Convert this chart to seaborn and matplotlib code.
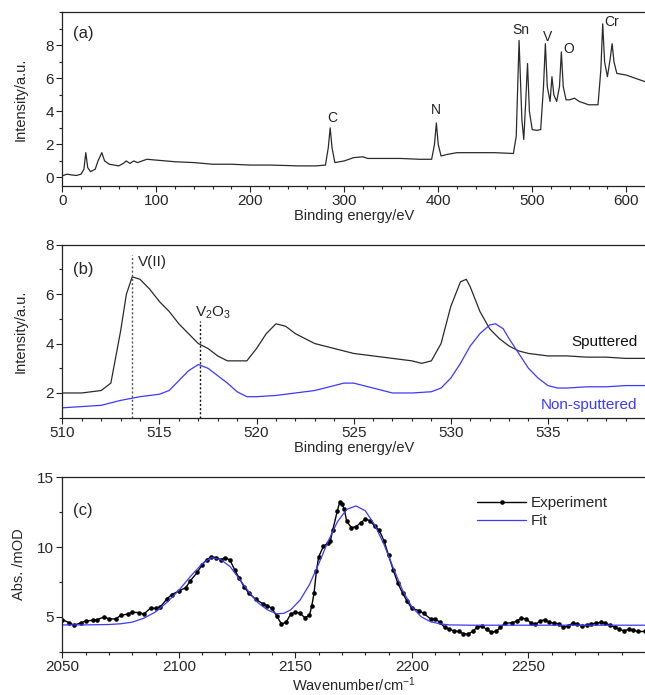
import numpy as np
import pandas as pd
import matplotlib
matplotlib.use("Agg")
import matplotlib.pyplot as plt
from matplotlib.ticker import MultipleLocator
import seaborn as sns

# (a) survey spectrum
survey_ev = [0, 5, 10, 15, 20, 23, 25, 27, 30, 35, 38, 42, 45, 50, 60, 65, 68, 72, 76, 80,
             90, 100, 120, 140, 160, 180, 200, 220, 240, 250, 270, 280, 283, 285, 287, 290,
             300, 310, 320, 325, 340, 360, 380, 393, 396, 398, 400, 403, 410, 420, 440, 460,
             480, 483, 486, 489, 491, 493, 495, 497, 500, 505, 509, 512, 514, 516, 519, 521,
             523, 526, 529, 531, 533, 536, 540, 545, 550, 560, 570, 573, 575, 577, 580, 583,
             585, 587, 590, 600, 610, 620]
survey_int = [0.1, 0.2, 0.15, 0.12, 0.2, 0.5, 1.5, 0.6, 0.35, 0.5, 1.0, 1.5, 1.0, 0.8, 0.7, 0.85,
              1.0, 0.85, 1.0, 0.9, 1.1, 1.05, 0.95, 0.9, 0.8, 0.8, 0.75, 0.75, 0.72, 0.7, 0.7,
              0.75, 1.8, 3.0, 1.8, 0.9, 1.0, 1.2, 1.25, 1.15, 1.15, 1.15, 1.1, 1.1, 2.0, 3.3,
              2.0, 1.3, 1.4, 1.5, 1.5, 1.5, 1.45, 2.5, 8.3, 3.5, 2.3, 4.5, 6.9, 4.0, 2.9, 2.85,
              2.9, 5.5, 8.1, 5.5, 4.6, 6.1, 5.0, 4.6, 5.5, 7.6, 5.5, 4.7, 4.7, 4.8, 4.6, 4.4,
              4.4, 6.5, 9.3, 7.0, 6.1, 7.2, 8.1, 7.0, 6.3, 6.2, 6.0, 5.8]
peak_names = ["C", "N", "Sn", "V", "O", "Cr"]
peak_label_x = [287.5, 398, 488, 516, 539, 584]
peak_label_y = [3.6, 4.1, 8.9, 8.5, 7.8, 9.4]

# (b) V 2p region
sput_ev = [510, 511, 512, 512.5, 513, 513.3, 513.6, 514, 514.5, 515, 515.5, 516, 516.5, 517,
           517.5, 518, 518.5, 519, 519.5, 520, 520.5, 521, 521.5, 522, 522.5, 523, 524, 525,
           526, 527, 528, 528.5, 529, 529.5, 530, 530.5, 530.8, 531, 531.5, 532, 532.5, 533,
           533.5, 534, 535, 536, 537, 538, 539, 540]
sput_int = [2.0, 2.0, 2.1, 2.4, 4.5, 6.0, 6.7, 6.6, 6.2, 5.7, 5.3, 4.8, 4.4, 4.0, 3.8, 3.5,
            3.3, 3.3, 3.3, 3.8, 4.4, 4.8, 4.7, 4.4, 4.2, 4.0, 3.8, 3.6, 3.5, 3.4, 3.3, 3.2,
            3.3, 4.0, 5.5, 6.5, 6.6, 6.3, 5.3, 4.6, 4.2, 3.9, 3.7, 3.6, 3.5, 3.5, 3.45, 3.45,
            3.4, 3.4]
nonsput_ev = [510, 511, 512, 513, 514, 515, 515.5, 516, 516.5, 517, 517.5, 518, 518.5, 519,
              519.5, 520, 521, 522, 523, 524, 524.5, 525, 526, 527, 528, 529, 529.5, 530,
              530.5, 531, 531.5, 532, 532.3, 532.7, 533, 533.5, 534, 534.5, 535, 535.5, 536,
              537, 538, 539, 540]
nonsput_int = [1.4, 1.45, 1.5, 1.7, 1.85, 1.95, 2.1, 2.5, 2.9, 3.15, 3.0, 2.7, 2.4, 2.05,
               1.85, 1.85, 1.9, 2.0, 2.1, 2.3, 2.4, 2.4, 2.2, 2.0, 2.0, 2.05, 2.2, 2.6, 3.2,
               3.9, 4.4, 4.75, 4.8, 4.6, 4.2, 3.6, 3.0, 2.6, 2.3, 2.2, 2.2, 2.25, 2.25, 2.3, 2.3]
ref_lines_ev = [513.6, 517.1]
ref_lines_top = [7.6, 4.9]

# (c) IR absorbance
exp_wn = [2050, 2053, 2055, 2058, 2060, 2063, 2065, 2068, 2070, 2073, 2075, 2078, 2080, 2083,
          2085, 2088, 2090, 2092, 2095, 2097, 2100, 2103, 2105, 2108, 2110, 2112, 2114, 2116,
          2118, 2120, 2122, 2124, 2126, 2128, 2130, 2133, 2136, 2138, 2140, 2142, 2144, 2146,
          2148, 2150, 2152, 2154, 2156, 2157, 2158, 2159, 2160, 2162, 2164, 2165, 2166, 2168,
          2169, 2170, 2171, 2172, 2174, 2176, 2178, 2180, 2182, 2184, 2186, 2188, 2190, 2192,
          2194, 2196, 2198, 2200, 2203, 2205, 2208, 2210, 2212, 2214, 2216, 2218, 2220, 2222,
          2224, 2226, 2228, 2230, 2232, 2234, 2236, 2238, 2240, 2243, 2245, 2247, 2249, 2251,
          2253, 2255, 2257, 2259, 2261, 2263, 2265, 2267, 2269, 2271, 2273, 2275, 2277, 2279,
          2281, 2283, 2285, 2287, 2289, 2291, 2293, 2295, 2297, 2300]
exp_abs = [4.8, 4.57, 4.4, 4.57, 4.7, 4.75, 4.8, 5.0, 4.85, 4.85, 5.1, 5.2, 5.33, 5.3, 5.2,
           5.65, 5.6, 5.7, 6.3, 6.6, 6.85, 7.1, 7.6, 8.2, 8.75, 9.1, 9.3, 9.25, 9.1, 9.25, 9.05,
           8.35, 7.75, 7.15, 6.7, 6.25, 5.95, 5.8, 5.6, 5.05, 4.5, 4.6, 5.2, 5.35, 5.25, 4.95,
           5.1, 5.75, 6.7, 8.25, 9.3, 10.05, 10.3, 10.45, 11.2, 12.6, 13.2, 13.1, 12.7, 11.85,
           11.4, 11.45, 11.75, 12.0, 11.9, 11.5, 11.2, 10.45, 9.4, 8.35, 7.4, 6.7, 6.1, 5.6,
           5.45, 5.25, 4.85, 4.85, 4.6, 4.25, 4.1, 4.0, 3.95, 3.8, 3.75, 3.95, 4.25, 4.35, 4.1,
           3.9, 3.95, 4.25, 4.55, 4.57, 4.7, 4.9, 4.85, 4.57, 4.45, 4.7, 4.8, 4.6, 4.55, 4.5,
           4.25, 4.35, 4.55, 4.45, 4.35, 4.4, 4.5, 4.55, 4.6, 4.55, 4.4, 4.25, 4.1, 4.0, 4.1,
           4.05, 3.95, 3.95]
fit_wn = [2050, 2060, 2070, 2075, 2080, 2085, 2090, 2095, 2100, 2105, 2110, 2114, 2118, 2122,
          2126, 2130, 2134, 2138, 2142, 2145, 2148, 2152, 2156, 2160, 2164, 2168, 2172, 2176,
          2180, 2184, 2188, 2192, 2196, 2200, 2204, 2208, 2212, 2216, 2225, 2300]
fit_abs = [4.42, 4.42, 4.45, 4.5, 4.62, 4.9, 5.35, 6.05, 6.9, 7.9, 8.8, 9.25, 9.1, 8.6, 7.7,
           6.8, 6.0, 5.5, 5.22, 5.25, 5.5, 6.2, 7.3, 8.8, 10.4, 11.8, 12.7, 12.95, 12.6, 11.6,
           10.2, 8.5, 6.9, 5.7, 5.0, 4.65, 4.5, 4.42, 4.4, 4.4]

sns.set_style("ticks")
plt.rcParams["font.family"] = ["Liberation Sans", "DejaVu Sans"]
plt.rcParams["font.size"] = 10.5
plt.rcParams["mathtext.fontset"] = "custom"
plt.rcParams["mathtext.rm"] = "Liberation Sans"
plt.rcParams["mathtext.it"] = "Liberation Sans"

fig = plt.figure(figsize=(6.45, 6.95), dpi=100)
ax1 = fig.add_axes([0.0966, 0.7328, 0.9034, 0.2495])
ax2 = fig.add_axes([0.0966, 0.3990, 0.9034, 0.2489])
ax3 = fig.add_axes([0.0966, 0.0623, 0.9034, 0.2509])

dark = "#2a2a2a"
blue = "#3a3aff"

# Panel (a)
sns.lineplot(x=survey_ev, y=survey_int, ax=ax1, color=dark, lw=0.9, estimator=None, sort=False)
for name, px, py in zip(peak_names, peak_label_x, peak_label_y):
    ax1.text(px, py, name, fontsize=10, ha="center", va="center", color="#222222")
ax1.set_xlim(0, 620)
ax1.set_ylim(-0.5, 10)
ax1.set_xticks([0, 100, 200, 300, 400, 500, 600])
ax1.set_yticks([0, 2, 4, 6, 8])
ax1.xaxis.set_minor_locator(MultipleLocator(20))
ax1.yaxis.set_minor_locator(MultipleLocator(1))
ax1.set_xlabel("Binding energy/eV", labelpad=1)
ax1.set_ylabel("Intensity/a.u.", labelpad=13)
ax1.text(0.018, 0.88, "(a)", transform=ax1.transAxes, fontsize=12, va="center")

# Panel (b)
sns.lineplot(x=sput_ev, y=sput_int, ax=ax2, color=dark, lw=0.9, estimator=None, sort=False)
sns.lineplot(x=nonsput_ev, y=nonsput_int, ax=ax2, color=blue, lw=0.9, estimator=None, sort=False)
ax2.vlines(ref_lines_ev[0], 1, ref_lines_top[0], colors="#555555", linestyles=(0, (1.5, 1.5)), lw=1)
ax2.vlines(ref_lines_ev[1], 1, ref_lines_top[1], colors="#111111", linestyles=(0, (1.5, 1.5)), lw=1)
ax2.text(513.9, 7.3, "V(II)", fontsize=11, ha="left", va="center")
ax2.text(516.85, 5.25, "V$_2$O$_3$", fontsize=11, ha="left", va="center")
ax2.text(539.6, 4.05, "Sputtered", fontsize=11, ha="right", va="center", color="#111111")
ax2.text(539.6, 1.5, "Non-sputtered", fontsize=11, ha="right", va="center", color=blue)
ax2.set_xlim(510, 540)
ax2.set_ylim(1, 8)
ax2.set_xticks([510, 515, 520, 525, 530, 535])
ax2.set_yticks([2, 4, 6, 8])
ax2.xaxis.set_minor_locator(MultipleLocator(1))
ax2.yaxis.set_minor_locator(MultipleLocator(1))
ax2.set_xlabel("Binding energy/eV", labelpad=1)
ax2.set_ylabel("Intensity/a.u.", labelpad=13)
ax2.text(0.018, 0.854, "(b)", transform=ax2.transAxes, fontsize=12, va="center")

# Panel (c)
sns.lineplot(x=exp_wn, y=exp_abs, ax=ax3, color="black", lw=1.0, marker="o", markersize=3.3,
             markeredgewidth=0, estimator=None, sort=False, label="Experiment")
sns.lineplot(x=fit_wn, y=fit_abs, ax=ax3, color=blue, lw=0.9, estimator=None, sort=False,
             label="Fit")
ax3.set_xlim(2050, 2300)
ax3.set_ylim(2.5, 15)
ax3.set_xticks([2050, 2100, 2150, 2200, 2250])
ax3.set_yticks([5, 10, 15])
ax3.xaxis.set_minor_locator(MultipleLocator(10))
ax3.yaxis.set_minor_locator(MultipleLocator(2.5))
ax3.set_xlabel("Wavenumber/cm$^{-1}$", labelpad=1)
ax3.set_ylabel("Abs. /mOD", labelpad=8)
ax3.text(0.018, 0.81, "(c)", transform=ax3.transAxes, fontsize=12, va="center")
ax3.legend(loc="upper right", bbox_to_anchor=(0.96, 0.97), frameon=False, numpoints=1,
           handlelength=3.2, handletextpad=0.3, labelspacing=0.25, fontsize=11)

for ax in (ax1, ax2, ax3):
    ax.spines["right"].set_visible(False)
    for s in ("left", "bottom", "top"):
        ax.spines[s].set_linewidth(0.9)
        ax.spines[s].set_color("#222222")
    ax.tick_params(which="both", direction="out", top=False, right=False, width=0.8, color="#222222")
    ax.tick_params(which="major", length=4, labelsize=11, pad=2)
    ax.tick_params(which="minor", length=2.5)

fig.savefig("out.png", dpi=100)
